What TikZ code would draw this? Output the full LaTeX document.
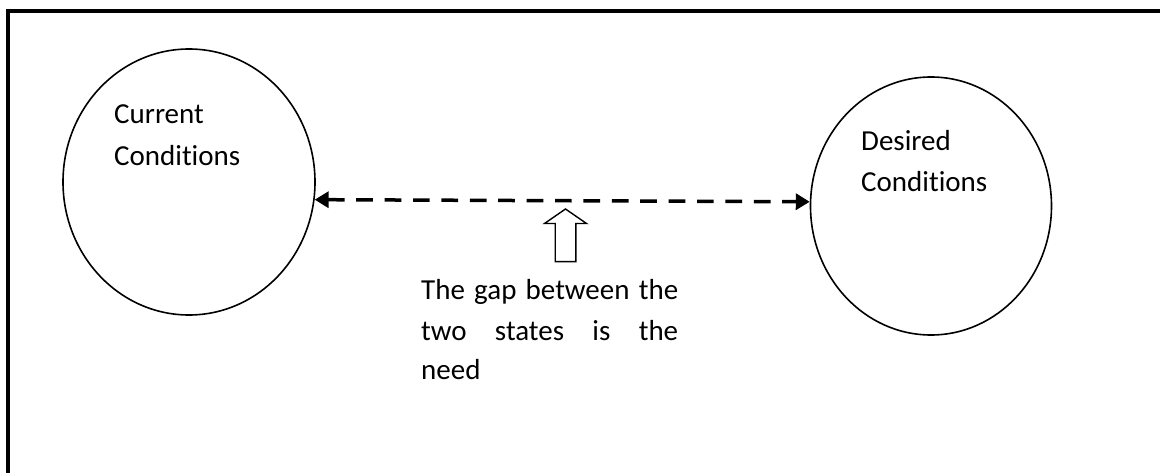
\documentclass[tikz,border=0pt]{standalone}
\usepackage{fontspec}
\setmainfont{Carlito}[Ligatures=NoCommon]
\usetikzlibrary{arrows.meta,shapes.geometric}

\tikzset{
  state/.style={draw, ellipse, line width=1.6pt, inner sep=0pt},
  label text/.style={inner sep=0pt, text width=170pt, align=left, anchor=base west,
    font=\fontsize{29}{42.7}\selectfont},
  gaparrow/.style={line width=3.5pt, dash pattern=on 16.7pt off 11.7pt,
    {Triangle[length=14pt,width=16pt]}-{Triangle[length=14pt,width=16pt]}},
  blockarrow/.style={draw, line width=1.4pt, line join=miter},
  frame/.style={line width=4pt, line join=miter}
}

\begin{document}
\begin{tikzpicture}[x=1pt, y=-1pt]
  \useasboundingbox (0,0) rectangle (1160,473);

  % open frame: left and top edges only
  \draw[frame] (7.5,473) -- (7.5,11.5) -- (1160,11.5);

  % the two states
  \node[state, minimum width=252pt, minimum height=266pt] (cur) at (189,182) {};
  \node[state, minimum width=241pt, minimum height=258pt] (des) at (931,206) {};

  \node[label text] (curtext) at (114,123.3) {Current\\Conditions};
  \node[label text, font=\fontsize{29}{41.5}\selectfont] (destext) at (861,150.3) {Desired\\Conditions};

  % the gap between them
  \draw[gaparrow] (cur.-8.2) -- (des.178);

  % hollow pointer up to the gap
  \draw[blockarrow] (555.2,261.7) -- (555.2,223.5) -- (544.5,223.5) -- (565.5,209)
    -- (586.5,223.5) -- (575.8,223.5) -- (575.8,261.7) -- cycle;

  \node[inner sep=0pt, anchor=base west, text width=257pt, align=justify,
    font=\fontsize{29}{40}\selectfont] (need) at (421,300)
    {The gap between the\linebreak two states is the\linebreak need};
\end{tikzpicture}
\end{document}
